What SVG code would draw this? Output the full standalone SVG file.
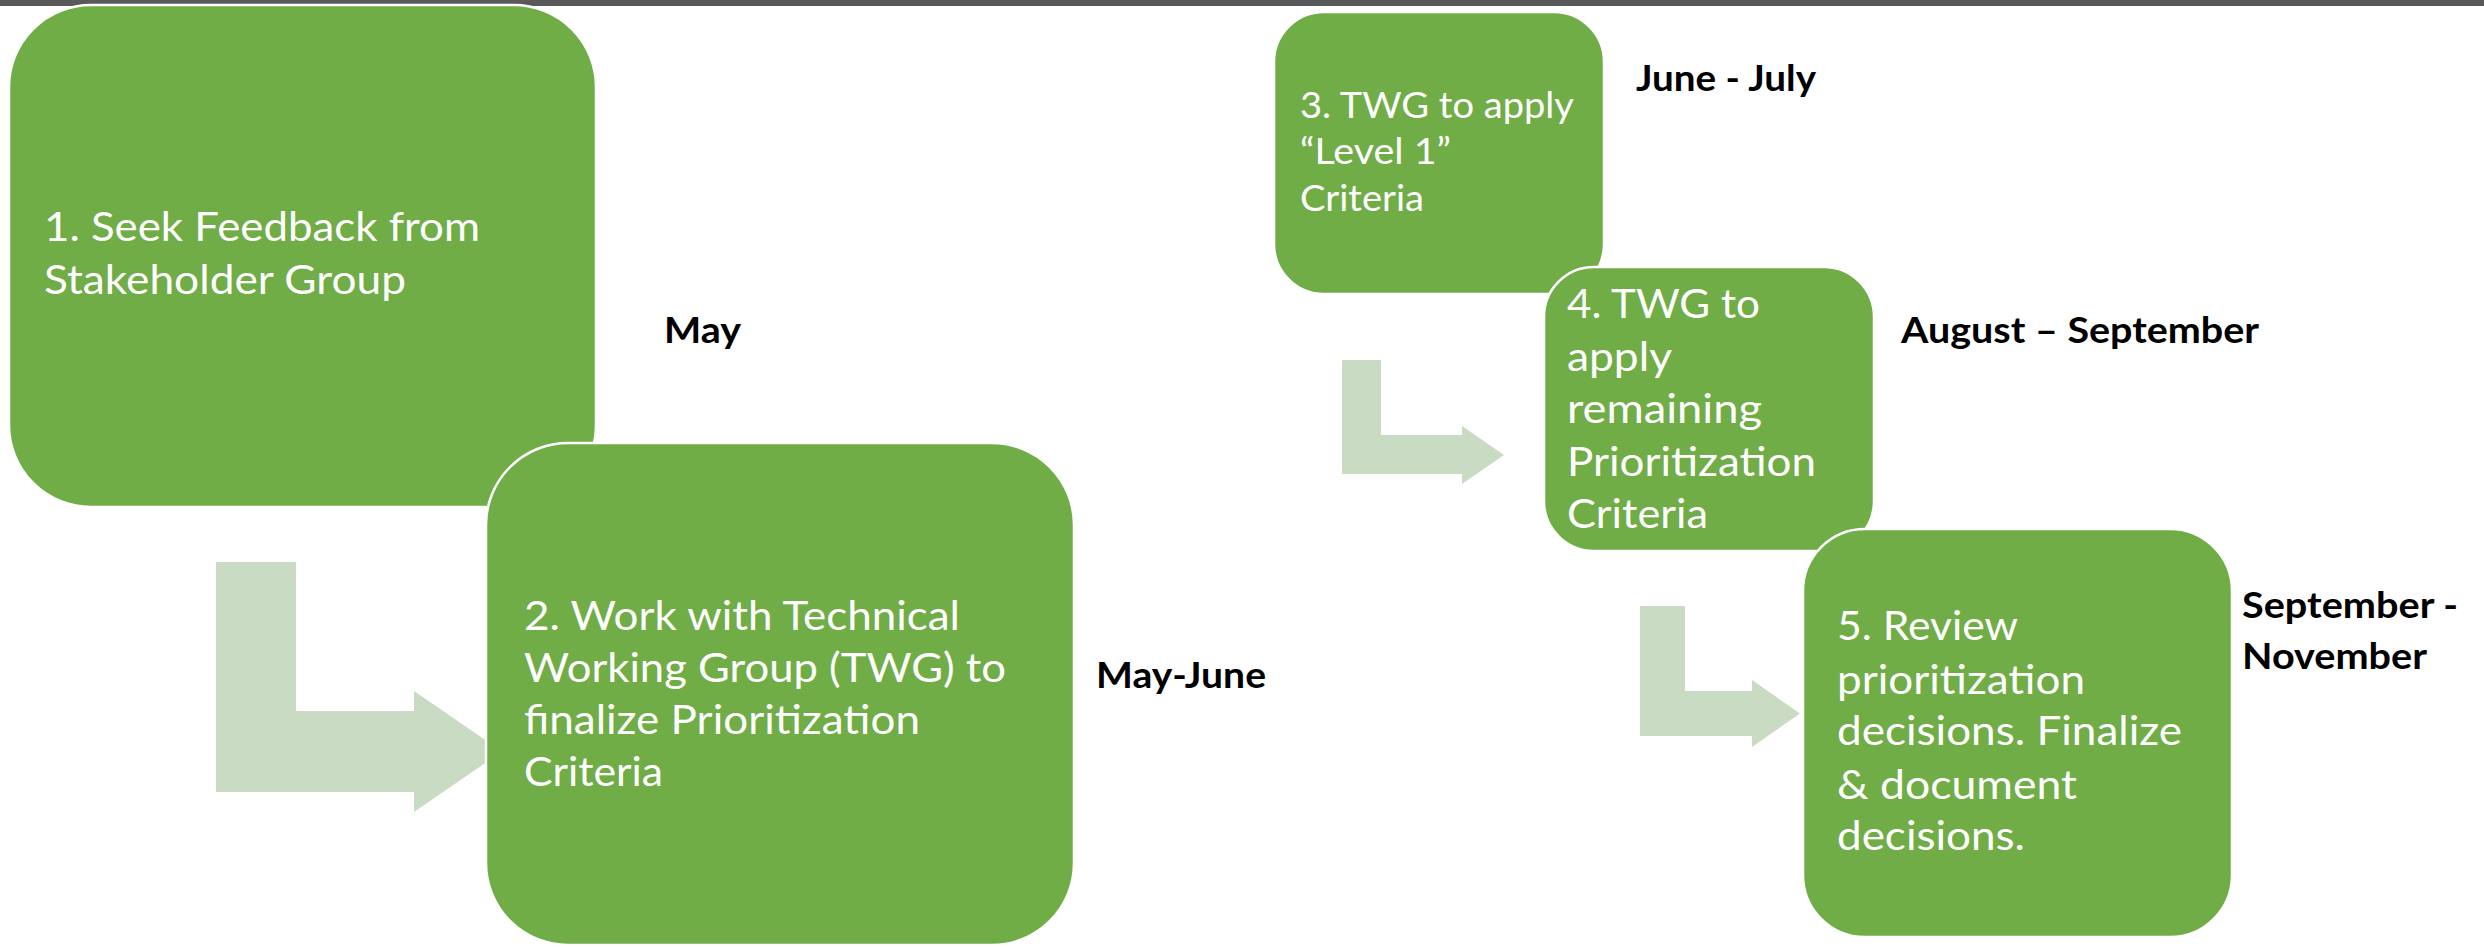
<svg xmlns="http://www.w3.org/2000/svg" width="2484" height="947" viewBox="0 0 2484 947">
<style>
.box{fill:#70AD47;stroke:#FFFFFF;stroke-width:2.5}
.arrow{fill:#C9DBC3;stroke:none}
.t{font-family:Lato,"Open Sans","Liberation Sans",sans-serif;fill:#FFFFFF;font-size:41px}
.t3{font-family:Lato,"Open Sans","Liberation Sans",sans-serif;fill:#FFFFFF;font-size:37px}
.lbl{font-family:Lato,"Open Sans","Liberation Sans",sans-serif;fill:#000000;font-size:37px;font-weight:bold}
</style>
<rect x="0" y="0" width="2484" height="947" fill="#FFFFFF"/>
<rect x="0" y="0" width="2484" height="6" fill="#595959"/>

<g id="node-1">
<rect class="box" x="9" y="5" width="587" height="502" rx="82" ry="82"/>
<text class="t" x="44" y="241" textLength="436" lengthAdjust="spacingAndGlyphs">1. Seek Feedback from</text>
<text class="t" x="44" y="294" textLength="362" lengthAdjust="spacingAndGlyphs">Stakeholder Group</text>
</g>

<g id="connectors">
<path id="arrow-1-2" class="arrow" d="M216,562 L296,562 L296,711 L414,711 L414,691 L502,751.5 L414,812 L414,792 L216,792 Z"/>
<path id="arrow-3-4" class="arrow" d="M1342,360 L1381,360 L1381,435 L1462,435 L1462,426 L1504,455 L1462,484 L1462,474 L1342,474 Z"/>
<path id="arrow-4-5" class="arrow" d="M1640,606 L1685,606 L1685,691 L1752,691 L1752,680 L1800,713.5 L1752,747 L1752,736 L1640,736 Z"/>
</g>

<g id="node-2">
<rect class="box" x="486" y="443" width="588" height="502" rx="82" ry="82"/>
<text class="t" x="524" y="630" textLength="436" lengthAdjust="spacingAndGlyphs">2. Work with Technical</text>
<text class="t" x="524" y="682" textLength="482" lengthAdjust="spacingAndGlyphs">Working Group (TWG) to</text>
<text class="t" x="524" y="734" textLength="396" lengthAdjust="spacingAndGlyphs">finalize Prioritization</text>
<text class="t" x="524" y="786" textLength="139" lengthAdjust="spacingAndGlyphs">Criteria</text>
</g>

<g id="node-3">
<rect class="box" x="1274" y="12" width="330" height="282" rx="50" ry="50"/>
<text class="t3" x="1300" y="118" textLength="274" lengthAdjust="spacingAndGlyphs">3. TWG to apply</text>
<text class="t3" x="1300" y="164" textLength="151" lengthAdjust="spacingAndGlyphs">“Level 1”</text>
<text class="t3" x="1300" y="211" textLength="124" lengthAdjust="spacingAndGlyphs">Criteria</text>
</g>

<g id="node-4">
<rect class="box" x="1544" y="267" width="330" height="284" rx="50" ry="50"/>
<text class="t" x="1567" y="318" textLength="193" lengthAdjust="spacingAndGlyphs">4. TWG to</text>
<text class="t" x="1567" y="371" textLength="105" lengthAdjust="spacingAndGlyphs">apply</text>
<text class="t" x="1567" y="423" textLength="195" lengthAdjust="spacingAndGlyphs">remaining</text>
<text class="t" x="1567" y="476" textLength="249" lengthAdjust="spacingAndGlyphs">Prioritization</text>
<text class="t" x="1567" y="528" textLength="141" lengthAdjust="spacingAndGlyphs">Criteria</text>
</g>

<g id="node-5">
<rect class="box" x="1803" y="529" width="429" height="408" rx="62" ry="62"/>
<text class="t" x="1837" y="640" textLength="181" lengthAdjust="spacingAndGlyphs">5. Review</text>
<text class="t" x="1837" y="694" textLength="248" lengthAdjust="spacingAndGlyphs">prioritization</text>
<text class="t" x="1837" y="745" textLength="345" lengthAdjust="spacingAndGlyphs">decisions. Finalize</text>
<text class="t" x="1837" y="799" textLength="240" lengthAdjust="spacingAndGlyphs">&amp; document</text>
<text class="t" x="1837" y="850" textLength="188" lengthAdjust="spacingAndGlyphs">decisions.</text>
</g>

<g id="timeline-labels">
<text id="label-1" class="lbl" x="664" y="343" textLength="77" lengthAdjust="spacingAndGlyphs">May</text>
<text id="label-2" class="lbl" x="1096" y="688" textLength="170" lengthAdjust="spacingAndGlyphs">May-June</text>
<text id="label-3" class="lbl" x="1636" y="91" textLength="180" lengthAdjust="spacingAndGlyphs">June - July</text>
<text id="label-4" class="lbl" x="1901" y="343" textLength="358" lengthAdjust="spacingAndGlyphs">August – September</text>
<text id="label-5a" class="lbl" x="2242" y="618" textLength="216" lengthAdjust="spacingAndGlyphs">September -</text>
<text id="label-5b" class="lbl" x="2242" y="669" textLength="185" lengthAdjust="spacingAndGlyphs">November</text>
</g>
</svg>
